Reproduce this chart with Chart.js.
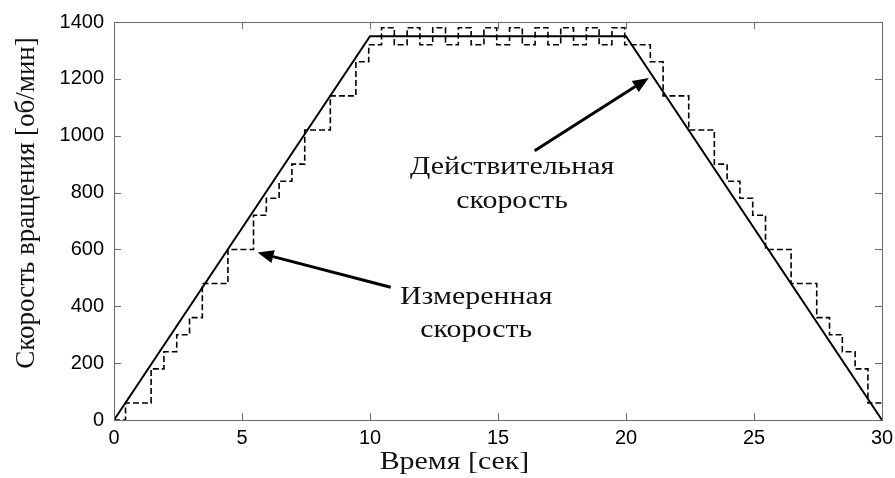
<!DOCTYPE html>
<html>
<head>
<meta charset="utf-8">
<script src="https://cdn.jsdelivr.net/npm/chart.js@4.4.1/dist/chart.umd.min.js"></script>
<style>
  html, body { margin: 0; padding: 0; background: #fff; }
  #wrap { width: 895px; height: 478px; position: relative; }
</style>
</head>
<body>
<div id="wrap"><canvas id="c"></canvas></div>
<script>
// ---- data ----
const actualTime  = [0, 10, 20, 30];
const actualSpeed = [0, 1350, 1350, 0];

const measuredTime = [0, 0.45, 1.45, 1.95, 2.45, 2.95, 3.45, 4.45, 5.45, 5.95, 6.45, 6.95, 7.45, 8.45, 9.45, 9.95,
  10.45, 10.95, 11.45, 11.95, 12.45, 12.95, 13.45, 13.95, 14.45, 14.95, 15.45, 15.95, 16.45, 16.95,
  17.45, 17.95, 18.45, 18.95, 19.45, 19.95, 20.95, 21.45, 22.45, 23.45, 23.95, 24.45, 24.95, 25.45,
  26.45, 27.45, 27.95, 28.45, 28.95, 29.45, 30];
const measuredSpeed = [0, 60, 180, 240, 300, 360, 480, 600, 720, 780, 840, 900, 1020, 1140, 1260, 1320,
  1380, 1320, 1380, 1320, 1380, 1320, 1380, 1320, 1380, 1320, 1380, 1320, 1380, 1320,
  1380, 1320, 1380, 1320, 1380, 1320, 1260, 1140, 1020, 900, 840, 780, 720, 600,
  480, 360, 300, 240, 180, 60, 60];

const xTicks = [0, 5, 10, 15, 20, 25, 30];
const yTicks = [0, 200, 400, 600, 800, 1000, 1200, 1400];

const xTitle = 'Время [сек]';
const yTitle = 'Скорость вращения [об/мин]';

// annotations (in data coordinates)
const annotationTexts = [
  { lines: ['Действительная', 'скорость'], x: 15.55, y: [888, 770] },
  { lines: ['Измеренная', 'скорость'], x: 14.15, y: [432, 316] }
];
const arrows = [
  { from: [16.43, 947], to: [20.89, 1203] },
  { from: [10.81, 467], to: [5.61, 589] }
];

const toXY = (xs, ys) => xs.map((x, i) => ({ x: x, y: ys[i] }));

const SERIF = '"Liberation Serif", "Times New Roman", "DejaVu Serif", serif';
const SANS = '"Liberation Sans", Arial, sans-serif';
const FRAME = '#6a6a6a';
const STRETCH = 1.15;

function stretchedText(ctx, s, x, y) {
  ctx.save();
  ctx.translate(x, y);
  ctx.scale(STRETCH, 1);
  ctx.fillText(s, 0, 0);
  ctx.restore();
}

const decorPlugin = {
  id: 'decor',
  afterDraw(chart) {
    const ctx = chart.ctx;
    const a = chart.chartArea;
    const xs = chart.scales.x, ys = chart.scales.y;
    ctx.save();
    // frame
    ctx.strokeStyle = FRAME;
    ctx.lineWidth = 1;
    ctx.strokeRect(Math.round(a.left) + 0.5, Math.round(a.top) + 0.5,
                   Math.round(a.right - a.left), Math.round(a.bottom - a.top));
    // inner tick marks on all four sides
    const tl = 7;
    ctx.beginPath();
    xTicks.forEach(v => {
      const p = Math.round(xs.getPixelForValue(v)) + 0.5;
      ctx.moveTo(p, a.bottom); ctx.lineTo(p, a.bottom - tl);
      ctx.moveTo(p, a.top); ctx.lineTo(p, a.top + tl);
    });
    yTicks.forEach(v => {
      const p = Math.round(ys.getPixelForValue(v)) + 0.5;
      ctx.moveTo(a.left, p); ctx.lineTo(a.left + tl, p);
      ctx.moveTo(a.right, p); ctx.lineTo(a.right - tl, p);
    });
    ctx.stroke();

    // arrows
    ctx.strokeStyle = '#000';
    ctx.fillStyle = '#000';
    arrows.forEach(ar => {
      const x0 = xs.getPixelForValue(ar.from[0]), y0 = ys.getPixelForValue(ar.from[1]);
      const x1 = xs.getPixelForValue(ar.to[0]), y1 = ys.getPixelForValue(ar.to[1]);
      const ang = Math.atan2(y1 - y0, x1 - x0);
      const hl = 16, hw = 6.5;
      const bx = x1 - hl * Math.cos(ang), by = y1 - hl * Math.sin(ang);
      ctx.lineWidth = 3;
      ctx.beginPath();
      ctx.moveTo(x0, y0); ctx.lineTo(bx, by);
      ctx.stroke();
      ctx.beginPath();
      ctx.moveTo(x1, y1);
      ctx.lineTo(bx + hw * Math.sin(ang), by - hw * Math.cos(ang));
      ctx.lineTo(bx - hw * Math.sin(ang), by + hw * Math.cos(ang));
      ctx.closePath();
      ctx.fill();
    });

    // annotation texts
    ctx.font = '26px ' + SERIF;
    ctx.fillStyle = '#111';
    ctx.textAlign = 'center';
    ctx.textBaseline = 'middle';
    annotationTexts.forEach(t => {
      t.lines.forEach((s, i) => {
        stretchedText(ctx, s, xs.getPixelForValue(t.x), ys.getPixelForValue(t.y[i]));
      });
    });

    // x axis title
    stretchedText(ctx, xTitle, xs.getPixelForValue(13.3), 462);

    // y axis title
    ctx.save();
    ctx.translate(27, 203);
    ctx.rotate(-Math.PI / 2);
    ctx.font = '27px ' + SERIF;
    ctx.fillText(yTitle, 0, 0);
    ctx.restore();

    ctx.restore();
  }
};

new Chart(document.getElementById('c'), {
  type: 'line',
  data: {
    datasets: [
      {
        label: 'Действительная скорость',
        data: toXY(actualTime, actualSpeed),
        borderColor: '#000',
        borderWidth: 2,
        pointRadius: 0,
        fill: false,
        tension: 0
      },
      {
        label: 'Измеренная скорость',
        data: toXY(measuredTime, measuredSpeed),
        borderColor: '#000',
        borderWidth: 1.6,
        borderDash: [6, 3],
        pointRadius: 0,
        fill: false,
        stepped: 'before'
      }
    ]
  },
  options: {
    responsive: true,
    maintainAspectRatio: false,
    animation: false,
    layout: { padding: { top: 22, right: 13, left: 0, bottom: 0 } },
    plugins: {
      legend: { display: false },
      tooltip: { enabled: false }
    },
    scales: {
      x: {
        type: 'linear',
        min: 0, max: 30,
        grid: { display: false, drawTicks: false },
        border: { display: false },
        ticks: {
          stepSize: 5,
          padding: 6,
          color: '#000',
          font: { family: SANS, size: 20 },
          maxRotation: 0,
          callback: v => String(v)
        },
        afterFit: s => { s.height = 58; s.paddingLeft = 0; s.paddingRight = 0; }
      },
      y: {
        type: 'linear',
        min: 0, max: 1400,
        grid: { display: false, drawTicks: false },
        border: { display: false },
        ticks: {
          stepSize: 200,
          padding: 10,
          color: '#000',
          font: { family: SANS, size: 20 },
          callback: v => String(v)
        },
        afterFit: s => { s.width = 114; s.paddingTop = 0; s.paddingBottom = 0; }
      }
    }
  },
  plugins: [decorPlugin]
});
</script>
</body>
</html>
